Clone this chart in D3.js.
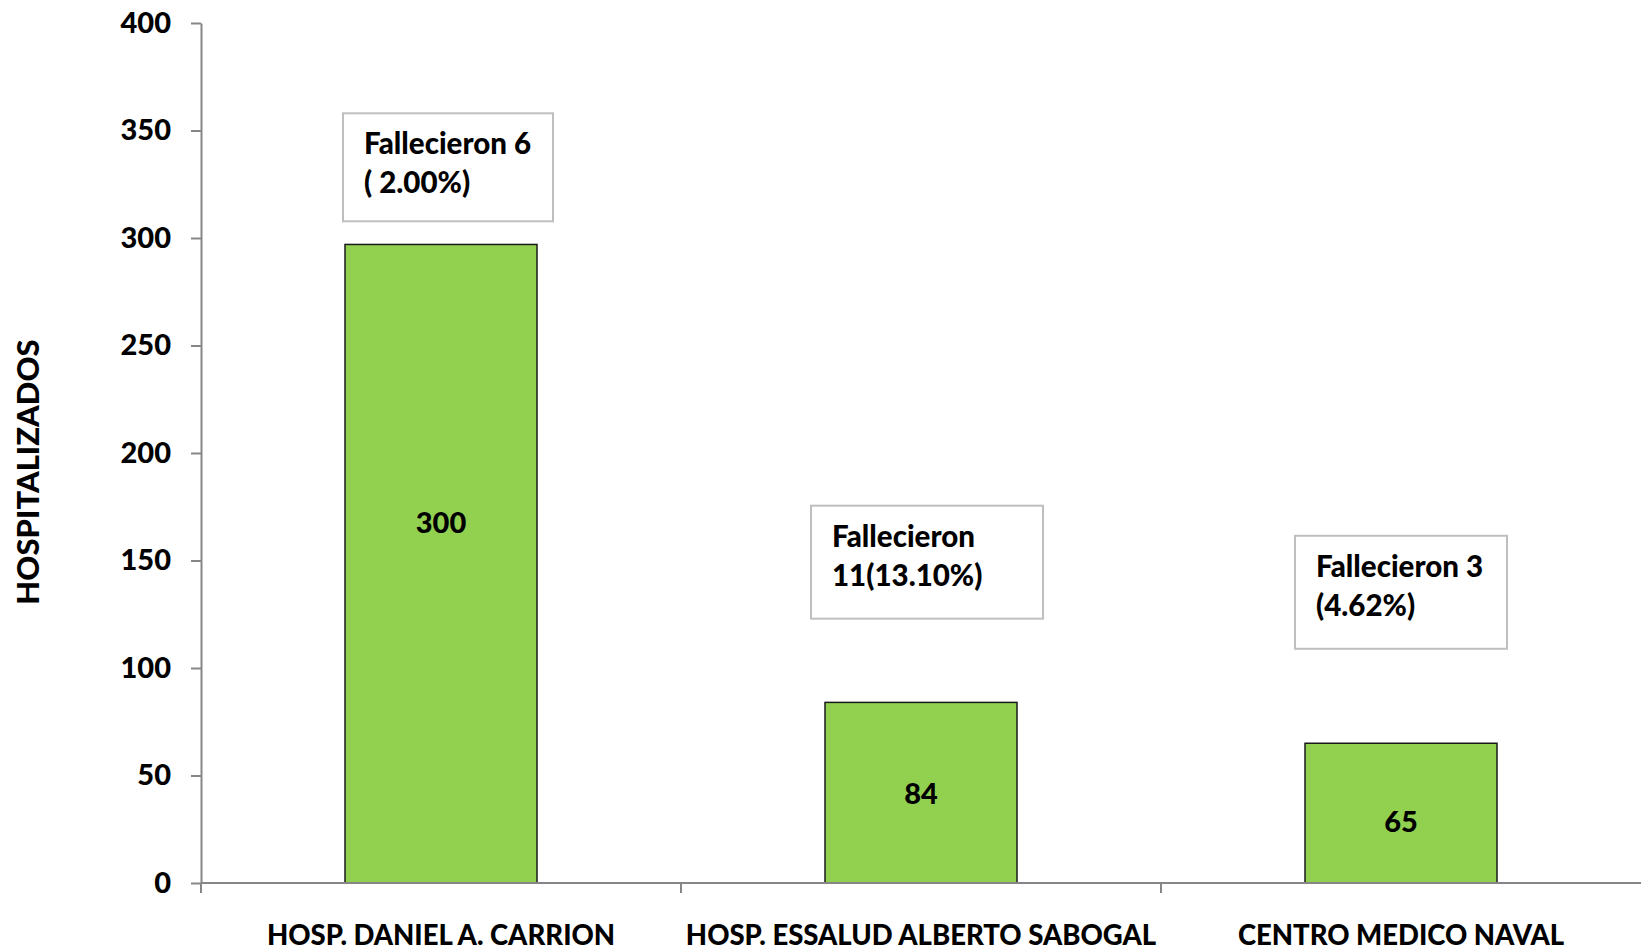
<!DOCTYPE html>
<html>
<head>
<meta charset="utf-8">
<script src="https://cdn.jsdelivr.net/npm/d3@7"></script>
<style>
  html, body { margin: 0; padding: 0; background: #fff; }
  svg { display: block; }
  text { font-family: Lato, "Open Sans", sans-serif; font-weight: 900; fill: #000; }
</style>
</head>
<body>
<svg id="chart" width="1641" height="950"></svg>
<script>
// ---- data ----
const categories = ["HOSP. DANIEL A. CARRION", "HOSP. ESSALUD ALBERTO SABOGAL", "CENTRO MEDICO NAVAL"];
const values = [297, 84, 65];
const valueLabels = ["300", "84", "65"];
const valueLabelLevels = [168, 42, 29];
const yTicks = [0, 50, 100, 150, 200, 250, 300, 350, 400];
const yTitle = "HOSPITALIZADOS";
const noteLines = [["Fallecieron 6", "( 2.00%)"], ["Fallecieron", "11(13.10%)"], ["Fallecieron 3", "(4.62%)"]];
const noteTops = [358, 175.5, 161.5];

// ---- layout (px) ----
const W = 1641, H = 950;
const plot = { left: 201, right: 1641, top: 23, bottom: 883 };
const noteBoxes = [
  { dx: -98, w: 210, h: 108 },
  { dx: -110, w: 232, h: 113 },
  { dx: -106, w: 212, h: 113 }
];
const axisColor = "#868686";

const svg = d3.select("#chart");
svg.append("rect").attr("width", W).attr("height", H).attr("fill", "#fff");

const x = d3.scaleBand().domain(categories).range([plot.left, plot.right])
  .paddingInner(0.6).paddingOuter(0.3);
const y = d3.scaleLinear().domain([0, 400]).range([plot.bottom, plot.top]);

// bars
svg.append("g").selectAll("rect").data(values).join("rect")
  .attr("x", (d, i) => x(categories[i]))
  .attr("y", d => y(d))
  .attr("width", x.bandwidth())
  .attr("height", d => y(0) - y(d))
  .attr("fill", "#92D050")
  .attr("stroke", "#1a1a1a")
  .attr("stroke-width", 1.5);

// y axis
const yAxis = svg.append("g").attr("transform", `translate(${plot.left},0)`)
  .call(d3.axisLeft(y).tickValues(yTicks).tickSize(10).tickSizeOuter(0).tickPadding(20));
yAxis.select(".domain").attr("stroke", axisColor).attr("stroke-width", 2);
yAxis.selectAll(".tick line").attr("stroke", axisColor).attr("stroke-width", 2);
yAxis.selectAll(".tick text").style("font-size", "29px")
  .style("font-family", "Lato, sans-serif").style("font-weight", 900).attr("fill", "#000");

// x axis
const xg = svg.append("g");
xg.append("line").attr("x1", plot.left).attr("x2", plot.right)
  .attr("y1", y(0)).attr("y2", y(0)).attr("stroke", axisColor).attr("stroke-width", 2);
const boundaries = categories.map(c => x(c) - x.step() * x.paddingOuter());
xg.selectAll("line.tk").data(boundaries).join("line").attr("class", "tk")
  .attr("x1", d => d).attr("x2", d => d)
  .attr("y1", y(0)).attr("y2", y(0) + 10)
  .attr("stroke", axisColor).attr("stroke-width", 2);
xg.selectAll("text").data(categories).join("text")
  .attr("x", d => x(d) + x.bandwidth() / 2)
  .attr("y", y(0) + 51)
  .attr("text-anchor", "middle")
  .attr("dominant-baseline", "central")
  .style("font-size", "27.5px")
  .text(d => d);

// y title
svg.append("text")
  .attr("transform", `translate(27,${(plot.top + plot.bottom) / 2 + 19}) rotate(-90)`)
  .attr("text-anchor", "middle")
  .attr("dominant-baseline", "central")
  .style("font-size", "31px")
  .text(yTitle);

// value labels
svg.append("g").selectAll("text").data(valueLabels).join("text")
  .attr("x", (d, i) => x(categories[i]) + x.bandwidth() / 2)
  .attr("y", (d, i) => y(valueLabelLevels[i]))
  .attr("text-anchor", "middle")
  .attr("dominant-baseline", "central")
  .style("font-size", "29px")
  .text(d => d);

// annotation boxes
const notes = svg.append("g").selectAll("g").data(noteLines).join("g")
  .attr("transform", (d, i) => `translate(${x(categories[i]) + x.bandwidth() / 2 + noteBoxes[i].dx},${y(noteTops[i])})`);
notes.append("rect")
  .attr("width", (d, i) => noteBoxes[i].w)
  .attr("height", (d, i) => noteBoxes[i].h)
  .attr("fill", "#fff").attr("stroke", "#bfbfbf").attr("stroke-width", 2);
notes.each(function (lines) {
  const g = d3.select(this);
  lines.forEach((t, j) => {
    g.append("text").attr("x", 21).attr("y", 41 + j * 39)
      .style("font-size", "29.5px").text(t);
  });
});
</script>
</body>
</html>
